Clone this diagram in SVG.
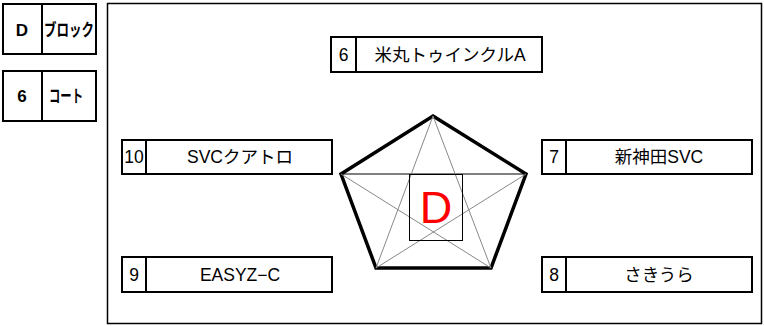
<svg xmlns="http://www.w3.org/2000/svg" width="764" height="326" viewBox="0 0 764 326">
<style>
.box{fill:#fff;stroke:#000;stroke-width:2}
.div{stroke:#000;stroke-width:2}
.t{font-family:"Liberation Sans","Noto Sans CJK JP",sans-serif;font-size:17.5px;fill:#000;text-anchor:middle}
.b{font-family:"Liberation Sans","Noto Sans CJK JP",sans-serif;font-size:17px;font-weight:bold;fill:#000;text-anchor:middle}
.star{stroke:#888;stroke-width:1;fill:none}
</style>
<rect x="0" y="0" width="764" height="326" fill="#fff"/>
<g id="block-label">
<rect class="box" x="3" y="4" width="93" height="50"/>
<line class="div" x1="42" y1="4" x2="42" y2="54"/>
<text class="b" x="22" y="36">D</text>
<text class="b" x="69" y="36" font-size="20" textLength="50" lengthAdjust="spacingAndGlyphs">ブロック</text>
</g>
<g id="court-label">
<rect class="box" x="3" y="71" width="93" height="50"/>
<line class="div" x1="42" y1="71" x2="42" y2="121"/>
<text class="b" x="22" y="102">6</text>
<text class="b" x="66" y="102" font-size="18" textLength="34" lengthAdjust="spacingAndGlyphs">コート</text>
</g>
<rect id="frame" x="107.5" y="3.5" width="654" height="320" fill="none" stroke="#000" stroke-width="1.5"/>
<g id="connectors">
<polygon points="433,116 526,174 491,268 376,268 341,174" fill="none" stroke="#000" stroke-width="3.5" stroke-linejoin="miter"/>
<line x1="341" y1="174" x2="526" y2="174" stroke="#000" stroke-width="1"/>
<line class="star" x1="433" y1="116" x2="376" y2="268"/>
<line class="star" x1="433" y1="116" x2="491" y2="268"/>
<line class="star" x1="341" y1="174" x2="491" y2="268"/>
<line class="star" x1="526" y1="174" x2="376" y2="268"/>
</g>
<g id="center">
<rect x="409.5" y="174.5" width="53" height="66" fill="none" stroke="#000" stroke-width="1"/>
<text x="436" y="223" font-family="Liberation Sans, sans-serif" font-size="45" fill="#ff0000" text-anchor="middle">D</text>
</g>
<g id="team6">
<rect class="box" x="331" y="37" width="211" height="35"/>
<line class="div" x1="356" y1="37" x2="356" y2="72"/>
<text class="t" x="343.5" y="61">6</text>
<text class="t" x="450" y="61">米丸トゥインクルA</text>
</g>
<g id="team10">
<rect class="box" x="122" y="140" width="210" height="34"/>
<line class="div" x1="146" y1="140" x2="146" y2="174"/>
<text class="t" x="134" y="163">10</text>
<text class="t" x="240" y="163">SVCクアトロ</text>
</g>
<g id="team7">
<rect class="box" x="542" y="140" width="210" height="34"/>
<line class="div" x1="566" y1="140" x2="566" y2="174"/>
<text class="t" x="554" y="163">7</text>
<text class="t" x="659" y="163">新神田SVC</text>
</g>
<g id="team9">
<rect class="box" x="122" y="257" width="210" height="35"/>
<line class="div" x1="146" y1="257" x2="146" y2="292"/>
<text class="t" x="134" y="281">9</text>
<text class="t" x="240" y="281">EASYZ−C</text>
</g>
<g id="team8">
<rect class="box" x="542" y="257" width="210" height="35"/>
<line class="div" x1="566" y1="257" x2="566" y2="292"/>
<text class="t" x="554" y="281">8</text>
<text class="t" x="659" y="281">さきうら</text>
</g>
</svg>
